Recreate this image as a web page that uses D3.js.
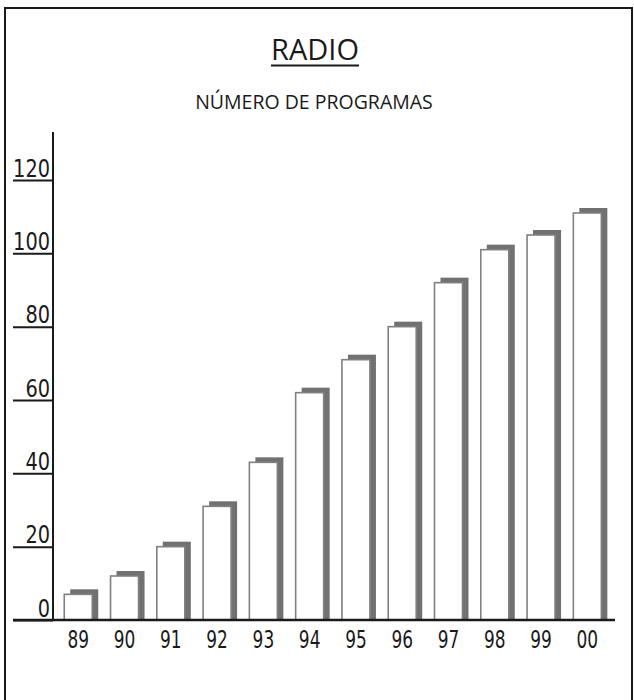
<!DOCTYPE html>
<html>
<head>
<meta charset="utf-8">
<script src="https://cdn.jsdelivr.net/npm/d3@7"></script>
<style>
  body { margin: 0; background: #fff; }
  svg text { fill: #1a1a1a; }
</style>
</head>
<body>
<div class="chart"></div>
<script>
const years = ['89', '90', '91', '92', '93', '94', '95', '96', '97', '98', '99', '00'];
const programas = [7, 12, 20, 31, 43, 62, 71, 80, 92, 101, 105, 111];
const yTicks = [0, 20, 40, 60, 80, 100, 120];

const width = 634;
const height = 700;
const numFont = '"DejaVu Sans Condensed", "Open Sans", sans-serif';

const svg = d3
  .select('.chart')
  .append('svg')
  .attr('width', width)
  .attr('height', height);

// frame
svg
  .append('rect')
  .attr('x', 5)
  .attr('y', 8)
  .attr('width', 627)
  .attr('height', 710)
  .attr('fill', 'none')
  .attr('stroke', '#1a1a1a')
  .attr('stroke-width', 2);

// title
svg
  .append('text')
  .attr('x', 315)
  .attr('y', 60)
  .attr('text-anchor', 'middle')
  .style('font', '29px "Open Sans", sans-serif')
  .text('RADIO');

svg
  .append('line')
  .attr('x1', 271)
  .attr('x2', 359)
  .attr('y1', 65.5)
  .attr('y2', 65.5)
  .attr('stroke', '#1a1a1a')
  .attr('stroke-width', 2);

svg
  .append('text')
  .attr('x', 314)
  .attr('y', 109)
  .attr('text-anchor', 'middle')
  .style('font', '19.5px "Open Sans", sans-serif')
  .text('NÚMERO DE PROGRAMAS');

const y = d3.scaleLinear().domain([0, 120]).range([620, 180]);

const x = d3
  .scaleBand()
  .domain(years)
  .range([55, 610.6])
  .paddingInner(0.395)
  .paddingOuter(0.2);

const shadowDx = 6;
const shadowDy = 5;

// shadows
svg
  .append('g')
  .selectAll('rect')
  .data(programas)
  .enter()
  .append('rect')
  .attr('x', (d, i) => x(years[i]) + shadowDx)
  .attr('y', d => y(d) - shadowDy)
  .attr('width', x.bandwidth())
  .attr('height', d => y(0) - y(d) + shadowDy)
  .attr('fill', '#717171');

// front bars
svg
  .append('g')
  .selectAll('rect')
  .data(programas)
  .enter()
  .append('rect')
  .attr('x', (d, i) => x(years[i]))
  .attr('y', d => y(d))
  .attr('width', x.bandwidth())
  .attr('height', d => y(0) - y(d))
  .attr('fill', '#fff')
  .attr('stroke', '#808080')
  .attr('stroke-width', 1.6);

// y axis
const yAxis = svg
  .append('g')
  .attr('transform', 'translate(53,0)')
  .call(d3.axisLeft(y).tickValues(yTicks).tickSize(40).tickFormat(d3.format('d')));

yAxis.select('.domain').remove();
yAxis.selectAll('.tick line').attr('stroke', '#1a1a1a').attr('stroke-width', 2);
yAxis
  .selectAll('.tick text')
  .attr('x', -3)
  .attr('dy', '-4px')
  .attr('text-anchor', 'end')
  .attr('textLength', d => String(d).length * 12.3)
  .attr('lengthAdjust', 'spacingAndGlyphs')
  .style('font', `25px ${numFont}`)
  .style('fill', '#1a1a1a');

svg
  .append('line')
  .attr('x1', 53)
  .attr('x2', 53)
  .attr('y1', 132)
  .attr('y2', 621)
  .attr('stroke', '#1a1a1a')
  .attr('stroke-width', 2);

// x axis
const xAxis = svg
  .append('g')
  .attr('transform', 'translate(0,620)')
  .call(d3.axisBottom(x).tickSize(0).tickPadding(10));

xAxis.select('.domain').remove();
xAxis
  .selectAll('.tick text')
  .attr('dy', '0.71em')
  .attr('transform', 'translate(0,1)')
  .attr('textLength', d => d.length * 10.8)
  .attr('lengthAdjust', 'spacingAndGlyphs')
  .style('font', `24px ${numFont}`)
  .style('fill', '#1a1a1a');

svg
  .append('line')
  .attr('x1', 13)
  .attr('x2', 615)
  .attr('y1', 620)
  .attr('y2', 620)
  .attr('stroke', '#1a1a1a')
  .attr('stroke-width', 2.5);
</script>
</body>
</html>
